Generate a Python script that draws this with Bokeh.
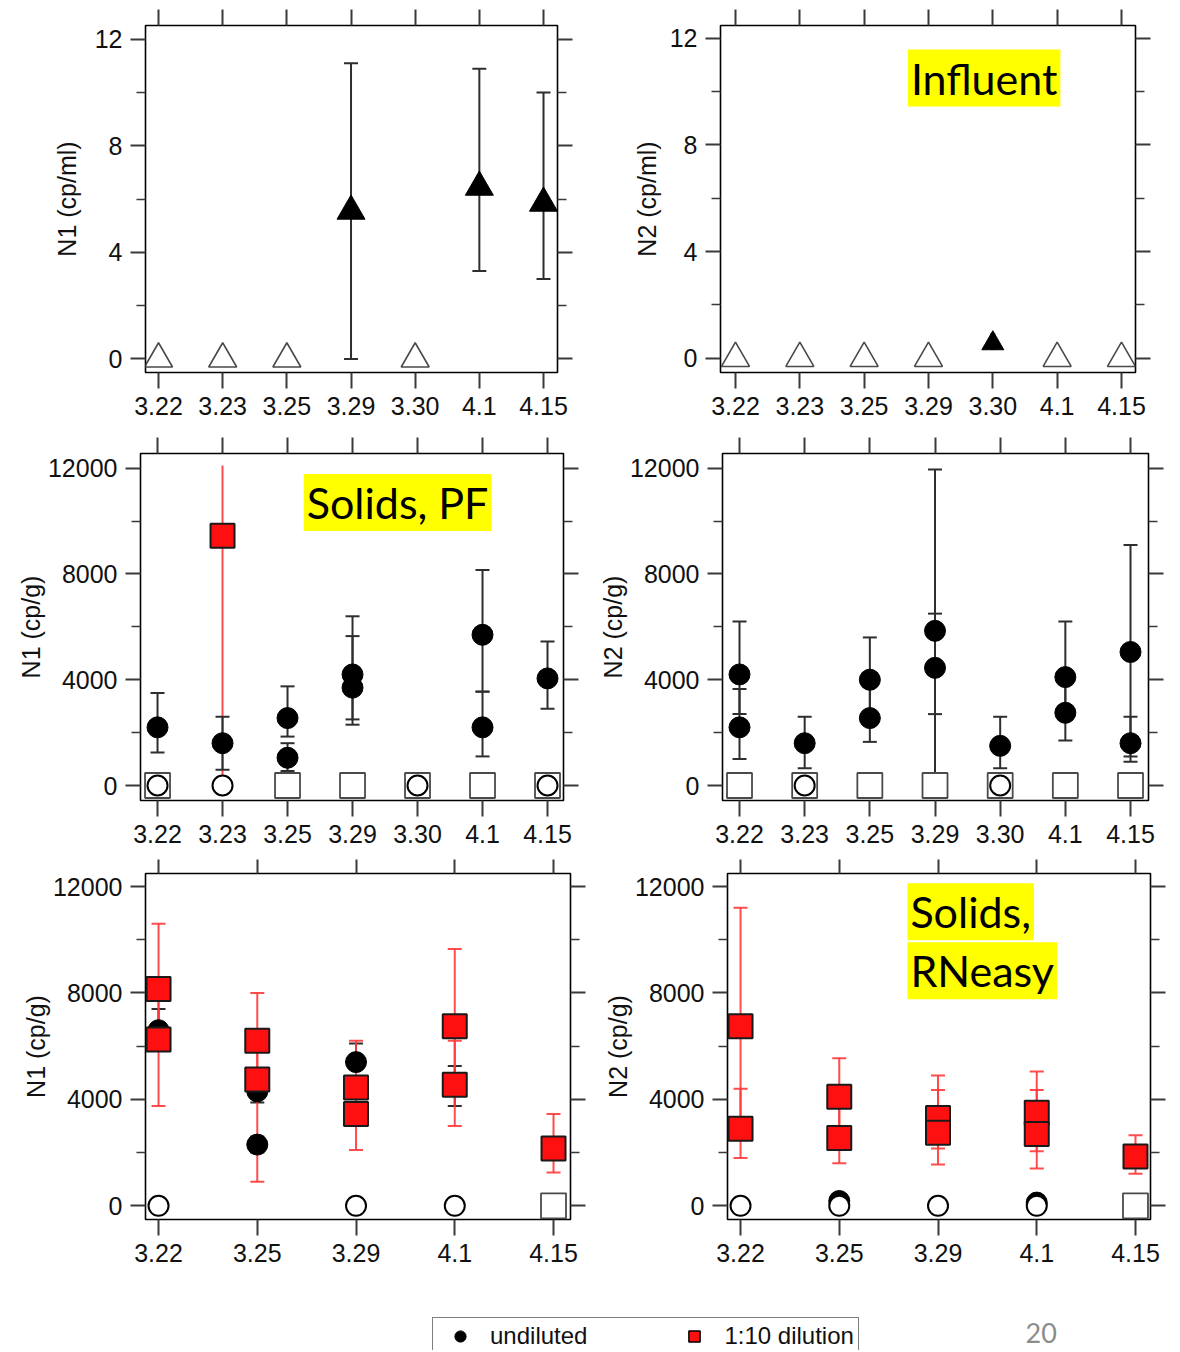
from bokeh.plotting import figure
from bokeh.models import (ColumnDataSource, Range1d, LinearAxis, FixedTicker,
                          Whisker, TeeHead, Label, Legend, LegendItem)
from bokeh.layouts import column, row
from bokeh.embed import file_html
from bokeh.resources import INLINE

# ---------------- data ----------------
dates_all = ["3.22", "3.23", "3.25", "3.29", "3.30", "4.1", "4.15"]
dates_rn = ["3.22", "3.25", "3.29", "4.1", "4.15"]

inf_ticks = [0, 4, 8, 12]
inf_minor = [2, 6, 10]
sol_ticks = [0, 4000, 8000, 12000]
sol_minor = [2000, 6000, 10000]

# Influent, N1 (cp/ml)
inf_n1_dates = ["3.29", "4.1", "4.15"]
inf_n1_vals = [5.55, 6.45, 5.85]
inf_n1_lo = [0.0, 3.3, 3.0]
inf_n1_hi = [11.1, 10.9, 10.0]
inf_n1_nd = ["3.22", "3.23", "3.25", "3.30"]
inf_n1_nd_vals = [0, 0, 0, 0]

# Influent, N2 (cp/ml)
inf_n2_dates = ["3.30"]
inf_n2_vals = [0.56]
inf_n2_lo = [0.35]
inf_n2_hi = [0.9]
inf_n2_nd = ["3.22", "3.23", "3.25", "3.29", "4.1", "4.15"]
inf_n2_nd_vals = [0, 0, 0, 0, 0, 0]

# Solids, PF, N1 (cp/g)
pf_n1_und_dates = ["3.22", "3.23", "3.25", "3.25", "3.29", "3.29", "4.1", "4.1", "4.15"]
pf_n1_und_vals = [2200, 1600, 2550, 1050, 4200, 3700, 5700, 2200, 4050]
pf_n1_und_lo = [1250, 600, 1850, 550, 2500, 2300, 3550, 1100, 2900]
pf_n1_und_hi = [3500, 2600, 3750, 1600, 6400, 5650, 8150, 3550, 5450]
pf_n1_dil_dates = ["3.23"]
pf_n1_dil_vals = [9450]
pf_n1_dil_lo = [400]
pf_n1_dil_hi = [12100]
pf_n1_nd_circ = ["3.22", "3.23", "3.30", "4.15"]
pf_n1_nd_circ_vals = [0, 0, 0, 0]
pf_n1_nd_sq = ["3.22", "3.25", "3.29", "3.30", "4.1", "4.15"]
pf_n1_nd_sq_vals = [0, 0, 0, 0, 0, 0]

# Solids, PF, N2 (cp/g)
pf_n2_und_dates = ["3.22", "3.22", "3.23", "3.25", "3.25", "3.29", "3.29", "3.30",
                   "4.1", "4.1", "4.15", "4.15"]
pf_n2_und_vals = [4200, 2200, 1600, 4000, 2550, 5850, 4450, 1500, 4100, 2750, 5050, 1600]
pf_n2_und_lo = [2700, 1000, 650, 2600, 1650, 0, 2700, 650, 2700, 1700, 900, 1100]
pf_n2_und_hi = [6200, 3650, 2600, 5600, 3900, 11950, 6500, 2600, 6200, 3900, 9100, 2600]
pf_n2_nd_circ = ["3.23", "3.30"]
pf_n2_nd_circ_vals = [0, 0]
pf_n2_nd_sq = ["3.22", "3.23", "3.25", "3.29", "3.30", "4.1", "4.15"]
pf_n2_nd_sq_vals = [0, 0, 0, 0, 0, 0, 0]

# Solids, RNeasy, N1 (cp/g)
rn_n1_und_dates = ["3.22", "3.25", "3.25", "3.29", "4.1"]
rn_n1_und_vals = [6600, 4300, 2300, 5400, 4550]
rn_n1_und_lo = [5900, 3880, 2000, 5150, 3750]
rn_n1_und_hi = [7400, 4800, 2600, 6100, 5250]
rn_n1_dil_dates = ["3.22", "3.22", "3.25", "3.25", "3.29", "3.29", "4.1", "4.1", "4.15"]
rn_n1_dil_vals = [8150, 6250, 6200, 4750, 4450, 3450, 6750, 4550, 2150]
rn_n1_dil_lo = [6300, 3750, 4700, 900, 3100, 2100, 4500, 3000, 1250]
rn_n1_dil_hi = [10600, 8000, 8000, 6300, 6200, 4600, 9650, 6200, 3450]
rn_n1_nd_circ = ["3.22", "3.29", "4.1"]
rn_n1_nd_circ_vals = [0, 0, 0]
rn_n1_nd_sq = ["4.15"]
rn_n1_nd_sq_vals = [0]

# Solids, RNeasy, N2 (cp/g)
rn_n2_und_dates = ["3.25", "4.1"]
rn_n2_und_vals = [180, 120]
rn_n2_dil_dates = ["3.22", "3.22", "3.25", "3.25", "3.29", "3.29", "4.1", "4.1", "4.15"]
rn_n2_dil_vals = [6750, 2900, 4100, 2550, 3300, 2750, 3500, 2700, 1850]
rn_n2_dil_lo = [2700, 1800, 2650, 1600, 2150, 1550, 2050, 1400, 1200]
rn_n2_dil_hi = [11200, 4400, 5550, 3900, 4900, 4350, 5050, 4350, 2650]
rn_n2_nd_circ = ["3.22", "3.25", "3.29", "4.1"]
rn_n2_nd_circ_vals = [0, 0, 0, 0]
rn_n2_nd_sq = ["4.15"]
rn_n2_nd_sq_vals = [0]

legend_labels = ["undiluted", "1:10 dilution"]
slide_number = "20"

# ---------------- style ----------------
FONT = "Liberation Sans"
TAGFONT = "Lato"
TICK = "#3a3a3a"
RED = "#ff1010"
RED_BAR = "#ff3a3a"
BAR = "#2e2e2e"
NAN = float("nan")


def xi(cats, dates):
    return [cats.index(d) for d in dates]


def panel(width, height, borders, xr, yr, cats, ticks, minor, ylabel, lab_standoff, top_tick):
    bl, br, bt, bb = borders
    p = figure(width=width, height=height, x_range=Range1d(*xr), y_range=Range1d(*yr),
               output_backend="svg", toolbar_location=None, tools="",
               x_axis_location=None, y_axis_location=None,
               min_border_left=bl, min_border_right=br,
               min_border_top=bt, min_border_bottom=bb,
               background_fill_color="white", border_fill_color="white")
    p.grid.visible = False
    p.outline_line_color = "black"
    p.outline_line_width = 1.6
    idx = list(range(len(cats)))
    common = dict(axis_line_color=None, major_tick_in=0, minor_tick_in=0,
                  major_tick_line_color=TICK, major_tick_line_width=2,
                  minor_tick_line_color=TICK, minor_tick_line_width=1.6)
    xb = LinearAxis(ticker=FixedTicker(ticks=idx),
                    major_label_overrides={i: c for i, c in enumerate(cats)},
                    major_tick_out=16, major_label_standoff=8,
                    major_label_text_font=FONT, major_label_text_font_size="25px",
                    major_label_text_color="#111111", **common)
    p.add_layout(xb, "below")
    xt = LinearAxis(ticker=FixedTicker(ticks=idx),
                    major_label_overrides={i: "" for i in idx},
                    major_tick_out=top_tick, major_label_standoff=0,
                    major_label_text_font_size="1px", **common)
    p.add_layout(xt, "above")
    yl = LinearAxis(ticker=FixedTicker(ticks=ticks, minor_ticks=minor),
                    major_tick_out=15, minor_tick_out=9, major_label_standoff=8,
                    major_label_text_font=FONT, major_label_text_font_size="25px",
                    major_label_text_color="#111111",
                    axis_label=ylabel, axis_label_standoff=lab_standoff,
                    axis_label_text_font=FONT, axis_label_text_font_size="25px",
                    axis_label_text_font_style="normal", axis_label_text_color="#111111",
                    **common)
    p.add_layout(yl, "left")
    yrr = LinearAxis(ticker=FixedTicker(ticks=ticks, minor_ticks=minor),
                     major_label_overrides={t: "" for t in ticks},
                     major_tick_out=15, minor_tick_out=9, major_label_standoff=0,
                     major_label_text_font_size="1px", **common)
    p.add_layout(yrr, "right")
    return p


def whisk(p, cats, dates, lo, hi, color, head=14, alpha=1.0):
    src = ColumnDataSource(dict(x=xi(cats, dates), lo=lo, hi=hi))

    def th():
        if head == 0:
            return None
        return TeeHead(size=head, line_color=color, line_width=2, line_alpha=alpha)
    p.add_layout(Whisker(base="x", lower="lo", upper="hi", source=src, dimension="height",
                         line_color=color, line_width=2, line_alpha=alpha,
                         upper_head=th(), lower_head=th()))


def nd_squares(p, cats, dates, vals):
    p.scatter(x=xi(cats, dates), y=vals, marker="square", size=25,
              fill_color="white", line_color="#4a4a4a", line_width=1.8)


def nd_circles(p, cats, dates, vals):
    p.scatter(x=xi(cats, dates), y=vals, marker="circle", size=20,
              fill_color="white", line_color="black", line_width=2)


def und_circles(p, cats, dates, vals):
    p.scatter(x=xi(cats, dates), y=vals, marker="circle", size=21,
              fill_color="black", line_color="black")


def dil_squares(p, cats, dates, vals):
    p.scatter(x=xi(cats, dates), y=vals, marker="square", size=24,
              fill_color=RED, line_color="#1a1a1a", line_width=2)


def tag(p, x, y, text):
    p.add_layout(Label(x=x, y=y, text=text, text_font=TAGFONT, text_font_size="43px",
                       text_color="black", text_baseline="middle", text_align="left",
                       background_fill_color="#ffff00", padding=3))


# ---------------- panel 1: Influent N1 ----------------
p1 = panel(590, 436, (145, 33, 25, 61), (-0.203, 6.218), (-0.51, 12.52),
           dates_all, inf_ticks, inf_minor, "N1 (cp/ml)", 11, 16)
whisk(p1, dates_all, inf_n1_dates, inf_n1_lo, inf_n1_hi, BAR)
p1.scatter(x=xi(dates_all, inf_n1_nd), y=inf_n1_nd_vals, marker="triangle", size=28,
           fill_color="white", fill_alpha=0, line_color="#4a4a4a", line_width=1.6)
p1.scatter(x=xi(dates_all, inf_n1_dates), y=inf_n1_vals, marker="triangle", size=28,
           fill_color="black", line_color="black")

# ---------------- panel 2: Influent N2 ----------------
p2 = panel(590, 436, (130, 45, 22, 64), (-0.233, 6.218), (-0.53, 12.47),
           dates_all, inf_ticks, inf_minor, "N2 (cp/ml)", 6, 16)
whisk(p2, dates_all, inf_n2_dates, inf_n2_lo, inf_n2_hi, BAR, head=5)
p2.scatter(x=xi(dates_all, inf_n2_nd), y=inf_n2_nd_vals, marker="triangle", size=28,
           fill_color="white", fill_alpha=0, line_color="#4a4a4a", line_width=1.6)
p2.scatter(x=xi(dates_all, inf_n2_dates), y=inf_n2_vals, marker="triangle", size=22,
           fill_color="black", line_color="black")
tag(p2, 2.68, 10.5, "Influent")

# ---------------- panel 3: Solids PF N1 ----------------
p3 = panel(590, 422, (140, 27, 17, 58), (-0.262, 6.246), (-567, 12556),
           dates_all, sol_ticks, sol_minor, "N1 (cp/g)", 0, 16)
whisk(p3, dates_all, pf_n1_dil_dates, pf_n1_dil_lo, pf_n1_dil_hi, RED_BAR, head=0, alpha=0.9)
whisk(p3, dates_all, pf_n1_und_dates, pf_n1_und_lo, pf_n1_und_hi, BAR)
nd_squares(p3, dates_all, pf_n1_nd_sq, pf_n1_nd_sq_vals)
nd_circles(p3, dates_all, pf_n1_nd_circ, pf_n1_nd_circ_vals)
und_circles(p3, dates_all, pf_n1_und_dates, pf_n1_und_vals)
dil_squares(p3, dates_all, pf_n1_dil_dates, pf_n1_dil_vals)
tag(p3, 2.25, 10700, "Solids, PF")

# ---------------- panel 4: Solids PF N2 ----------------
p4 = panel(590, 422, (132, 32, 17, 58), (-0.261, 6.276), (-567, 12556),
           dates_all, sol_ticks, sol_minor, "N2 (cp/g)", 0, 16)
whisk(p4, dates_all, pf_n2_und_dates, pf_n2_und_lo, pf_n2_und_hi, BAR)
nd_squares(p4, dates_all, pf_n2_nd_sq, pf_n2_nd_sq_vals)
nd_circles(p4, dates_all, pf_n2_nd_circ, pf_n2_nd_circ_vals)
und_circles(p4, dates_all, pf_n2_und_dates, pf_n2_und_vals)

# ---------------- panel 5: Solids RNeasy N1 ----------------
p5 = panel(590, 442, (145, 20, 15, 81), (-0.132, 4.172), (-515, 12489),
           dates_rn, sol_ticks, sol_minor, "N1 (cp/g)", 0, 14)
whisk(p5, dates_rn, rn_n1_und_dates, rn_n1_und_lo, rn_n1_und_hi, BAR)
whisk(p5, dates_rn, rn_n1_dil_dates, rn_n1_dil_lo, rn_n1_dil_hi, RED_BAR, alpha=0.9)
nd_squares(p5, dates_rn, rn_n1_nd_sq, rn_n1_nd_sq_vals)
nd_circles(p5, dates_rn, rn_n1_nd_circ, rn_n1_nd_circ_vals)
und_circles(p5, dates_rn, rn_n1_und_dates, rn_n1_und_vals)
dil_squares(p5, dates_rn, rn_n1_dil_dates, rn_n1_dil_vals)

# ---------------- panel 6: Solids RNeasy N2 ----------------
p6 = panel(590, 442, (137, 30, 15, 81), (-0.132, 4.152), (-515, 12489),
           dates_rn, sol_ticks, sol_minor, "N2 (cp/g)", 0, 14)
whisk(p6, dates_rn, rn_n2_dil_dates, rn_n2_dil_lo, rn_n2_dil_hi, RED_BAR, alpha=0.9)
und_circles(p6, dates_rn, rn_n2_und_dates, rn_n2_und_vals)
nd_squares(p6, dates_rn, rn_n2_nd_sq, rn_n2_nd_sq_vals)
nd_circles(p6, dates_rn, rn_n2_nd_circ, rn_n2_nd_circ_vals)
dil_squares(p6, dates_rn, rn_n2_dil_dates, rn_n2_dil_vals)
tag(p6, 1.69, 11050, "Solids,")
tag(p6, 1.69, 8830, "RNeasy")

# ---------------- legend strip ----------------
pl = figure(width=1180, height=50, x_range=Range1d(0, 1180), y_range=Range1d(0, 50),
            output_backend="svg", toolbar_location=None, tools="",
            x_axis_location=None, y_axis_location=None, min_border=0)
pl.outline_line_color = None
pl.grid.visible = False
r_und = pl.scatter(x=[NAN], y=[NAN], marker="circle", fill_color="black", line_color="black")
r_dil = pl.scatter(x=[NAN], y=[NAN], marker="square", fill_color=RED, line_color="black",
                   line_width=1.5)
leg = Legend(items=[LegendItem(label=legend_labels[0], renderers=[r_und]),
                    LegendItem(label=legend_labels[1], renderers=[r_dil])],
             orientation="horizontal", location=(432, -5), padding=4, spacing=84,
             glyph_width=46, glyph_height=28, label_standoff=7,
             label_text_font=FONT, label_text_font_size="24px", label_text_color="#111111",
             border_line_color="black", border_line_width=1.5, margin=0,
             background_fill_color="white", background_fill_alpha=1.0)
pl.add_layout(leg)
pl.add_layout(Label(x=1025, y=18, text=slide_number, text_font=TAGFONT, text_font_size="27px",
                    text_color="#8c8c8c", text_baseline="middle"))

layout = column(row(p1, p2), row(p3, p4), row(p5, p6), pl)

open("out.html", "w").write(file_html(layout, INLINE))
